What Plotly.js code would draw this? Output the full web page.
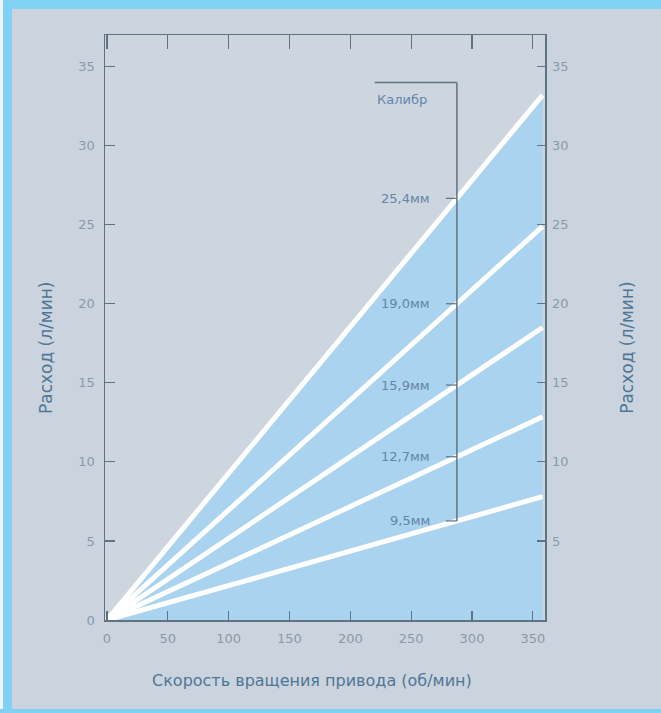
<!DOCTYPE html>
<html>
<head>
<meta charset="utf-8">
<script src="https://cdn.plot.ly/plotly-3.0.1.min.js"></script>
<style>
  html, body { margin:0; padding:0; width:661px; height:713px; overflow:hidden; background:#cbd4de; }
  #chart { position:absolute; left:0; top:0; width:661px; height:713px; }
  .bar { position:absolute; background:#80d2f4; pointer-events:none; }
</style>
</head>
<body>
<div id="chart"></div>
<div class="bar" style="left:0;top:0;width:661px;height:9px;"></div>
<div class="bar" style="left:3px;top:0;width:9px;height:713px;"></div>
<div class="bar" style="left:0;top:0;width:3px;height:713px;background:#eef6fb;"></div>
<div class="bar" style="left:0;top:709px;width:661px;height:4px;"></div>
<script>
// ---- data ----
const rpm = [0, 358];
const calibers = ['25,4мм', '19,0мм', '15,9мм', '12,7мм', '9,5мм'];
const flow254 = [0, 33.2];
const flow190 = [0, 24.9];
const flow159 = [0, 18.5];
const flow127 = [0, 12.85];
const flow95  = [0, 7.8];
const xTicks = [0, 50, 100, 150, 200, 250, 300, 350];
const yTicksLeft = [0, 5, 10, 15, 20, 25, 30, 35];
const yTicksRight = [5, 10, 15, 20, 25, 30, 35];
const legendTitle = 'Калибр';
const xTitle = 'Скорость вращения привода (об/мин)';
const yTitle = 'Расход (л/мин)';

const series = [flow254, flow190, flow159, flow127, flow95];
const axisColor = '#5f7383';
const labelColor = '#8a99a7';
const titleColor = '#4f7696';
const calColor = '#6385a8';

const traces = series.map((s, i) => ({
  x: rpm, y: s, type: 'scatter', mode: 'lines',
  line: {color: '#ffffff', width: 5},
  fill: i === 0 ? 'tozeroy' : 'none',
  fillcolor: '#aad3ef',
  hoverinfo: 'skip', showlegend: false
}));
traces.push({x: [rpm[0]], y: [0], yaxis: 'y2', mode: 'markers', marker: {opacity: 0}, showlegend: false, hoverinfo: 'skip'});
traces.push({x: [rpm[0]], y: [0], xaxis: 'x2', mode: 'markers', marker: {opacity: 0}, showlegend: false, hoverinfo: 'skip'});

// caliber key
const calX = 287.6, calTickX0 = 278.6, calLabelX = 267, calLeftX = 220, calTopY = 34.0;
const crossY = series.map(s => s[1] * calX / rpm[1]);
const shapes = [
  {type: 'line', xref: 'x', yref: 'y', x0: calX, x1: calX, y0: crossY[crossY.length-1], y1: calTopY, line: {color: axisColor, width: 1.5}},
  {type: 'line', xref: 'x', yref: 'y', x0: calLeftX, x1: calX, y0: calTopY, y1: calTopY, line: {color: axisColor, width: 1.5}}
];
crossY.forEach(y => shapes.push({type: 'line', xref: 'x', yref: 'y', x0: calTickX0, x1: calX, y0: y, y1: y, line: {color: axisColor, width: 1.2}}));

const calFont = {family: 'DejaVu Sans', size: 13, color: calColor};
const annotations = calibers.map((c, i) => ({
  x: calLabelX, y: crossY[i], xref: 'x', yref: 'y', text: c, showarrow: false,
  xanchor: 'right', yanchor: 'middle', font: calFont
}));
annotations.push({x: calLeftX, y: 32.95, xref: 'x', yref: 'y', text: legendTitle, showarrow: false,
  xanchor: 'left', yanchor: 'middle', font: calFont});
annotations.push({x: 0.47, y: -0.104, xref: 'paper', yref: 'paper', text: xTitle, showarrow: false,
  xanchor: 'center', yanchor: 'middle', font: {family: 'DejaVu Sans', size: 16, color: titleColor}});
annotations.push({x: -0.134, y: 0.465, xref: 'paper', yref: 'paper', text: yTitle, showarrow: false, textangle: -90,
  xanchor: 'center', yanchor: 'middle', font: {family: 'DejaVu Sans', size: 17, color: titleColor}});
annotations.push({x: 1.186, y: 0.465, xref: 'paper', yref: 'paper', text: yTitle, showarrow: false, textangle: -90,
  xanchor: 'center', yanchor: 'middle', font: {family: 'DejaVu Sans', size: 17, color: titleColor}});

const tickFont = {family: 'DejaVu Sans', size: 13, color: labelColor};
const layout = {
  width: 661, height: 713,
  margin: {l: 105, r: 116, t: 35, b: 93},
  paper_bgcolor: '#cbd4de', plot_bgcolor: '#cdd6df',
  showlegend: false,
  xaxis: {range: [-1.6, 360], tickvals: xTicks, ticks: 'inside', ticklen: 9, tickcolor: axisColor, tickwidth: 1.2,
    showline: true, linecolor: axisColor, linewidth: 1.5, mirror: true, showgrid: false, zeroline: false,
    tickfont: tickFont, ticklabelstandoff: 6},
  xaxis2: {range: [-1.6, 360], overlaying: 'x', side: 'top', tickvals: xTicks, ticks: 'inside', ticklen: 14,
    tickcolor: axisColor, tickwidth: 1.2, showticklabels: false, showgrid: false, zeroline: false, showline: false},
  yaxis: {range: [0, 37], tickvals: yTicksLeft, ticks: 'inside', ticklen: 10, tickcolor: axisColor, tickwidth: 1.2,
    showline: true, linecolor: axisColor, linewidth: 1.5, mirror: true, showgrid: false, zeroline: false,
    tickfont: tickFont, ticklabelstandoff: 6},
  yaxis2: {range: [0, 37], overlaying: 'y', side: 'right', tickvals: yTicksRight, ticks: 'inside', ticklen: 8,
    tickcolor: axisColor, tickwidth: 1.2, showgrid: false, zeroline: false, showline: false,
    tickfont: tickFont, ticklabelstandoff: 6},
  shapes: shapes,
  annotations: annotations
};
Plotly.newPlot('chart', traces, layout, {staticPlot: true, displayModeBar: false});
</script>
</body>
</html>
